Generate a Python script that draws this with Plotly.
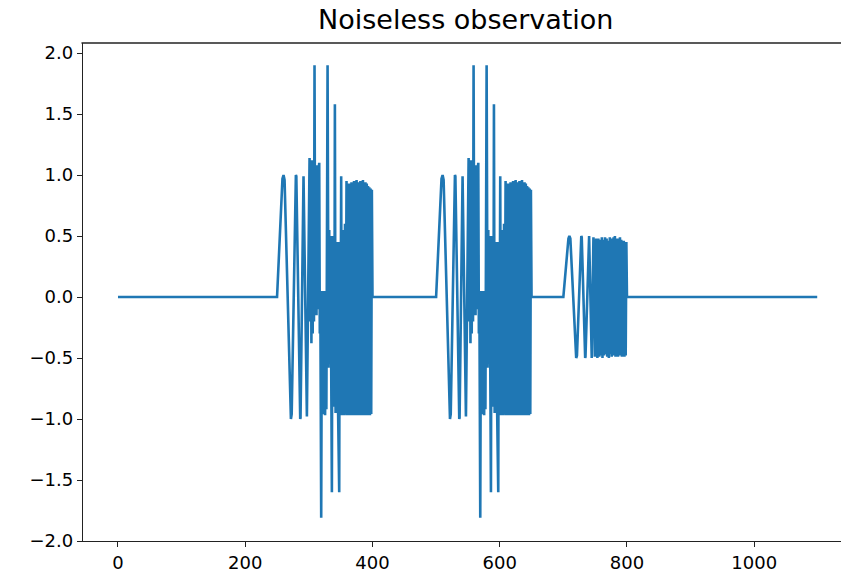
import plotly.graph_objects as go

# ---- data (offsets from burst start, values) ----
burst_starts = [250, 500]          # two identical bursts, 150 samples long
burst_tau = [0, 8.5, 10.2, 11.8, 20.5, 21.8, 23.0, 28.9, 29.6, 30.3, 35.9, 36.4, 36.9,
             41.6, 46.9, 51.1, 52, 53, 54, 55, 56, 57, 58, 58.9, 60, 61, 62, 63, 64, 65,
             66.3, 67.2, 68, 69.4, 70.5, 71.5, 72.5, 73.5, 74.5, 75.5, 76.5, 77.5, 79.4,
             80.3, 80.9, 82, 83, 84, 85, 86.2, 87, 88, 89, 90, 90.9, 92, 93, 94, 95, 96,
             97.7, 98.5, 99.5, 100.8, 101.8, 102.8, 103.8, 104.8, 105.8, 106.8, 107.8,
             109.2, 110, 111, 112, 113, 114, 115, 116, 117, 118, 119, 120, 121, 122, 123,
             124, 125, 126, 127, 128, 129, 130, 131, 132, 133, 134, 135, 136, 137, 138,
             139, 140, 141, 142, 143, 144, 145, 146, 147, 148, 149, 150]
burst_val = [0.0, 0.97, 1.0, 0.96, -0.97, -1.0, -0.96, 0.99, 1.0, 0.99, -0.99, -1.0, -0.99,
             0.99, -0.98, 1.14, -0.2, 1.1, -0.38, 1.12, -0.3, 1.1, -0.2, 1.90, -0.1, 1.05,
             -0.15, 1.08, -0.1, 1.02, 1.10, -0.3, 0.05, -1.81, 0.05, -0.96, 0.02, -0.95,
             0.05, -0.97, 0.0, -0.92, 1.90, 0.5, -0.58, 0.55, -0.55, 0.5, -0.55, -1.60,
             0.5, -0.9, 0.5, -0.9, 1.58, -0.95, 0.45, -0.95, 0.45, -0.96, -1.60, 0.45,
             -0.96, 0.99, -0.97, 0.5, -0.96, 0.55, -0.97, 0.6, -0.96, 0.95, -0.97, 0.9,
             -0.96, 0.93, -0.97, 0.9, -0.95, 0.94, -0.97, 0.92, -0.96, 0.95, -0.97, 0.93,
             -0.95, 0.96, -0.97, 0.94, -0.96, 0.92, -0.97, 0.95, -0.95, 0.93, -0.97, 0.96,
             -0.96, 0.92, -0.97, 0.94, -0.95, 0.93, -0.97, 0.91, -0.96, 0.9, -0.97, 0.89,
             -0.96, 0.88, 0.0]

small_start = 700                  # weaker burst, 100 samples long
small_tau = [0, 8.0, 9.5, 11.0, 19, 20.2, 21.4, 27.5, 28.2, 28.9, 33.8, 34.3, 34.8, 40.5,
             44.6, 47.3, 49.5, 51.5, 53.5, 55, 56.5, 58, 59, 60.5, 61.5, 63, 64, 65.5,
             66.5, 68, 69, 70.5, 71.5, 73, 74, 75, 76, 77, 78, 79, 80, 81, 82, 83, 84, 85,
             86, 87, 88, 89, 90, 91, 92, 93, 94, 95, 96, 97, 98, 99, 100]
small_val = [0.0, 0.48, 0.5, 0.48, -0.48, -0.5, -0.48, 0.49, 0.5, 0.49, -0.49, -0.5, -0.49,
             0.5, -0.5, 0.49, -0.49, 0.48, -0.5, 0.48, -0.49, 0.47, -0.48, 0.49, -0.5,
             0.47, -0.48, 0.49, -0.47, 0.48, -0.49, 0.46, -0.5, 0.49, -0.47, 0.48, -0.49,
             0.47, -0.48, 0.49, -0.47, 0.5, -0.49, 0.48, -0.48, 0.47, -0.49, 0.48, -0.47,
             0.49, -0.48, 0.47, -0.49, 0.46, -0.48, 0.46, -0.49, 0.45, -0.48, 0.45, 0.0]

n_samples = 1100
x_ticks = [0, 200, 400, 600, 800, 1000]
y_ticks = [-2.0, -1.5, -1.0, -0.5, 0.0, 0.5, 1.0, 1.5, 2.0]

# ---- assemble the polyline ----
xs, ys = [0], [0.0]
for s in burst_starts:
    xs += [s + t for t in burst_tau]
    ys += burst_val
xs += [small_start + t for t in small_tau]
ys += small_val
xs.append(n_samples - 1)
ys.append(0.0)

fig = go.Figure(go.Scatter(x=xs, y=ys, mode="lines",
                           line=dict(color="#1f77b4", width=2.6), hoverinfo="skip"))

font = "DejaVu Sans, Liberation Sans, sans-serif"
fig.update_layout(
    width=841, height=579,
    margin=dict(l=83, r=0, t=43, b=38, autoexpand=False),
    paper_bgcolor="white", plot_bgcolor="white",
    showlegend=False,
    title=dict(text="Noiseless observation", x=0.505, xanchor="center", xref="paper",
               y=1 - 20 / 579, yanchor="middle",
               font=dict(family=font, size=27, color="black")),
    font=dict(family=font, size=18, color="black"),
)
# top spine (the right spine lies outside the visible frame in the reference)
fig.add_shape(type="line", xref="paper", yref="paper", x0=-0.002, x1=1.0, y0=1, y1=1,
              line=dict(color="#222", width=1.3))
fig.update_xaxes(range=[-55, 1136.4], tickvals=x_ticks,
                 ticktext=[str(v) for v in x_ticks], automargin=False,
                 showgrid=False, zeroline=False, showline=True, linecolor="#222",
                 linewidth=1.3, mirror=False, ticks="outside", ticklen=5, tickwidth=1.3,
                 tickcolor="#222", tickfont=dict(size=18))
fig.update_yaxes(range=[-2.0, 2.082], tickvals=y_ticks, automargin=False,
                 ticktext=[("\u2212" if v < 0 else "") + f"{abs(v):.1f}" for v in y_ticks],
                 showgrid=False, zeroline=False, showline=True, linecolor="#222",
                 linewidth=1.3, mirror=False, ticks="outside", ticklen=5, tickwidth=1.3,
                 tickcolor="#222", tickfont=dict(size=18))

fig.write_html("out.html", config={"displayModeBar": False},
               post_script="document.body.style.margin='0';document.body.style.overflow='hidden';")
